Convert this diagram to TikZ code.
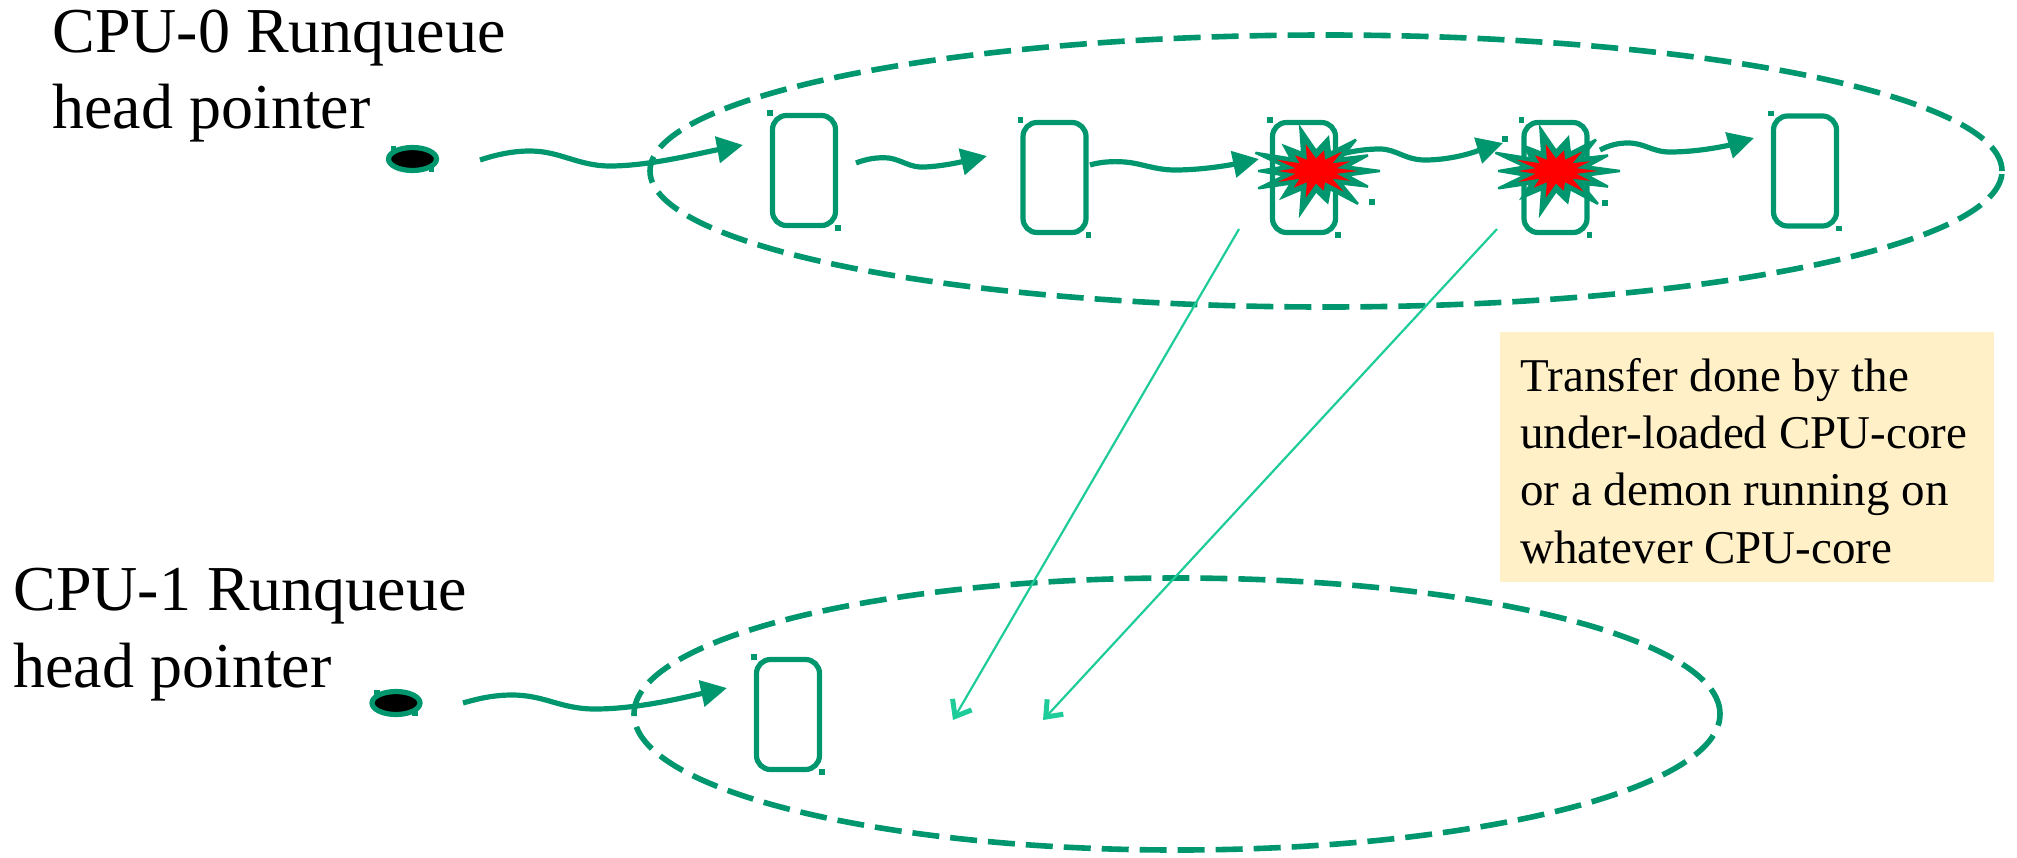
\documentclass[tikz,border=0pt]{standalone}
\usepackage{fontspec}
\setmainfont{Liberation Serif}
\usetikzlibrary{shapes.geometric,arrows.meta,calc}
\definecolor{qgreen}{HTML}{00966E}
\definecolor{lgreen}{HTML}{1DCC98}
\definecolor{notecol}{HTML}{FFF0C8}
\definecolor{burstred}{HTML}{FF0000}
\tikzset{
  burst/.pic={
    \filldraw[qgreen, line width=1.2pt, line join=miter, miter limit=4] (64,0) \foreach \a/\f in {12.86/0.5,25.71/0.9,38.57/0.5,51.43/1.05,64.29/0.5,77.14/0.8,90/0.5,102.86/1.1,115.71/0.5,128.57/0.85,141.43/0.5,154.29/1.0,167.14/0.5,180/0.9,192.86/0.5,205.71/1.05,218.57/0.5,231.43/0.8,244.29/0.5,257.14/1.1,270/0.5,282.86/0.85,295.71/0.5,308.57/1.0,321.43/0.5,334.29/0.9,347.14/0.5} {-- ({64*\f*cos(\a)},{40*\f*sin(\a)})} -- cycle;
    \fill[burstred] (42,0) \foreach \a/\f in {12.86/0.5,25.71/0.9,38.57/0.5,51.43/1.05,64.29/0.5,77.14/0.8,90/0.5,102.86/1.1,115.71/0.5,128.57/0.85,141.43/0.5,154.29/1.0,167.14/0.5,180/0.9,192.86/0.5,205.71/1.05,218.57/0.5,231.43/0.8,244.29/0.5,257.14/1.1,270/0.5,282.86/0.85,295.71/0.5,308.57/1.0,321.43/0.5,334.29/0.9,347.14/0.5} {-- ({42*\f*cos(\a)},{25*\f*sin(\a)})} -- cycle;
  }
}
\begin{document}
\begin{tikzpicture}[x=0.5pt,y=-0.5pt,
  queue/.style={draw=qgreen, ellipse, line width=2.8pt, dash pattern=on 13.5pt off 5.5pt, minimum width=676pt, minimum height=136pt, inner sep=0pt},
  task/.style={draw=qgreen, line width=2.6pt, rounded corners=7pt, minimum width=31.5pt, minimum height=55pt, inner sep=0pt},
  head/.style={draw=qgreen, fill=black, ellipse, line width=2.6pt, minimum width=24pt, minimum height=11.5pt, inner sep=0pt},
  link/.style={draw=qgreen, line width=2.6pt, -{Triangle[length=13pt,width=13pt]}},
  move/.style={draw=lgreen, line width=1.1pt, -{Straight Barb[length=7pt,width=11pt,line width=2.5pt]}},
  lbl/.style={font=\fontsize{32}{38}\selectfont, inner sep=0pt, anchor=base west},
  notetxt/.style={font=\fontsize{23.5}{28}\selectfont, inner sep=0pt, anchor=base west},
  handle/.style={fill=qgreen, minimum size=2.8pt, inner sep=0pt, draw=none, rectangle}
]
\useasboundingbox (0,0) rectangle (2017,857);

% queues
\node[queue] (q0) at (1326,171) {};
\node[queue, minimum width=543pt] (q1) at (1177,714) {};

% head pointers
\node[head] (h0) at (412.5,159) {};
\node[head] (h1) at (396,703) {};

% tasks
\node[task] (b1) at (804,170.5) {};
\node[task] (b2) at (1054.5,177.5) {};
\node[task] (b3) at (1304,177.5) {};
\node[task] (b4) at (1555.5,177.5) {};
\node[task] (b5) at (1805,171) {};
\node[task] (b6) at (788,714.5) {};

% link end points
\coordinate (a0s) at (480,160);  \coordinate (a0e) at (743,145);
\coordinate (a1s) at (856,163);  \coordinate (a1e) at (987,156);
\coordinate (a2s) at (1090,165); \coordinate (a2e) at (1259,159);
\coordinate (a3s) at (1338,155); \coordinate (a3e) at (1503,143);
\coordinate (a4s) at (1600,150); \coordinate (a4e) at (1754,138);
\coordinate (a5s) at (463,703);  \coordinate (a5e) at (727,688);

\draw[link] (a0s) .. controls (495,155) and (512,151) .. (530,151) .. controls (560,151) and (578,166) .. (610,166) .. controls (650,166) and (700,153) .. (a0e);
\draw[link] (a1s) .. controls (866,159) and (877,157) .. (889,158) .. controls (902,160) and (910,168) .. (925,167) .. controls (945,166) and (965,161) .. (a1e);
\draw[link] (a2s) .. controls (1100,162) and (1112,161) .. (1125,162) .. controls (1140,163) and (1155,170) .. (1175,170) .. controls (1205,170) and (1235,164) .. (a2e);
\draw[link] (a3s) .. controls (1352,151) and (1366,149) .. (1380,149) .. controls (1396,149) and (1405,160) .. (1425,160) .. controls (1455,160) and (1480,150) .. (a3e);
\draw[link] (a4s) .. controls (1610,145) and (1618,143) .. (1628,143) .. controls (1645,143) and (1652,152) .. (1670,152) .. controls (1700,152) and (1730,145) .. (a4e);
\draw[link] (a5s) .. controls (480,698) and (495,695) .. (512,695) .. controls (545,695) and (560,709) .. (595,709) .. controls (640,709) and (690,696) .. (a5e);

% bursts
\pic (s1) at (1316,171) {burst};
\pic (s2) at (1556,171) {burst};

% handles
\foreach \n in {b1,b2,b3,b4,b5,b6,h0,h1}{
  \node[handle] at (\n.north west) {};
  \node[handle] at (\n.south east) {};
}
\node[handle] (s1se) at (1372,202) {};
\node[handle] (s2nw) at (1505,139) {};
\node[handle] (s2se) at (1605,203) {};

% moves
\coordinate (m1s) at (1239,229); \coordinate (m1e) at (953,720);
\coordinate (m2s) at (1497,229); \coordinate (m2e) at (1043,720);
\draw[move] (m1s) -- (m1e);
\draw[move] (m2s) -- (m2e);

% note
\node[fill=notecol, minimum width=247pt, minimum height=125pt, inner sep=0pt] (note) at (1747,457) {};
\node[notetxt] (n1) at (1520,391) {Transfer done by the};
\node[notetxt] (n2) at (1520,448) {under-loaded CPU-core};
\node[notetxt] (n3) at (1520,505) {or a demon running on};
\node[notetxt] (n4) at (1520,563) {whatever CPU-core};

% labels
\node[lbl] (t0a) at (52,52) {CPU-0 Runqueue};
\node[lbl] (t0b) at (52,128) {head pointer};
\node[lbl] (t1a) at (13,610) {CPU-1 Runqueue};
\node[lbl] (t1b) at (13,687) {head pointer};
\end{tikzpicture}
\end{document}
